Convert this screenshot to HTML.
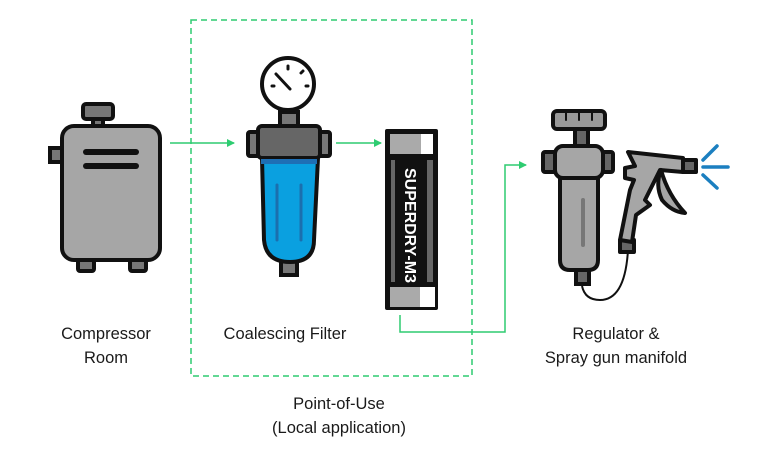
<!DOCTYPE html>
<html><head><meta charset="utf-8"><style>
html,body{margin:0;padding:0;background:#fff;width:770px;height:449px;overflow:hidden}
text{font-family:"Liberation Sans",sans-serif;font-size:16.5px;fill:#1a1a1a}
</style></head><body>
<svg width="770" height="449" viewBox="0 0 770 449" xmlns="http://www.w3.org/2000/svg">
<defs><marker id="a" markerWidth="8" markerHeight="8" refX="7" refY="4" orient="auto" markerUnits="userSpaceOnUse"><path d="M0,0 L8,4 L0,8 Z" fill="#2ecc71"/></marker></defs>
<rect x="191" y="20" width="281" height="356" fill="none" stroke="#2ecc71" stroke-width="1.5" stroke-dasharray="6,4"/>
<!-- compressor -->
<g stroke="#111" stroke-width="4">
<rect x="83" y="104" width="30" height="15" rx="3" fill="#777"/>
<rect x="93" y="119" width="10" height="7" fill="#777"/>
<rect x="50" y="148" width="14" height="14" fill="#777"/>
<rect x="78" y="257" width="16" height="14" rx="2" fill="#777"/>
<rect x="130" y="257" width="16" height="14" rx="2" fill="#777"/>
<rect x="62" y="126" width="98" height="134" rx="12" fill="#a6a6a6"/>
</g>
<g stroke="#111" stroke-width="6" stroke-linecap="round"><line x1="86" y1="152" x2="136" y2="152"/><line x1="86" y1="166" x2="136" y2="166"/></g>
<line x1="170" y1="143" x2="234" y2="143" stroke="#2ecc71" stroke-width="1.5" marker-end="url(#a)"/>
<!-- filter -->
<g stroke="#111" stroke-width="4">
<rect x="280" y="112" width="18" height="14" fill="#777"/>
<circle cx="288" cy="84" r="26" fill="#fff"/>
<rect x="248" y="132" width="14" height="24" rx="2" fill="#777"/>
<rect x="316" y="132" width="14" height="24" rx="2" fill="#777"/>
<rect x="281" y="258" width="16" height="17" fill="#777"/>
<path d="M262,158 L318,158 L314,240 Q314,262 290,262 Q266,262 264,240 Z" fill="#0aa0e0"/>
<rect x="258" y="126" width="62" height="32" rx="4" fill="#666"/>
</g>
<rect x="261" y="159" width="56" height="5" fill="#1e6fb5"/>
<g stroke="#1b6fae" stroke-width="3" stroke-linecap="round"><line x1="277" y1="185" x2="277" y2="240"/><line x1="301" y1="185" x2="301" y2="240"/></g>
<g stroke="#111" stroke-width="3" stroke-linecap="round"><line x1="276" y1="74" x2="290" y2="89"/><line x1="288" y1="66" x2="288" y2="69"/><line x1="301" y1="73" x2="303" y2="71"/><line x1="306" y1="86" x2="308" y2="86"/><line x1="274" y1="86" x2="272" y2="86"/></g>
<line x1="336" y1="143" x2="381" y2="143" stroke="#2ecc71" stroke-width="1.5" marker-end="url(#a)"/>
<!-- cartridge -->
<rect x="385" y="129" width="53" height="181" rx="2" fill="#111"/>
<rect x="390" y="134" width="31" height="20" fill="#aaa"/><rect x="421" y="134" width="12" height="20" fill="#fff"/>
<rect x="390" y="287" width="30" height="20" fill="#aaa"/><rect x="420" y="287" width="15" height="20" fill="#fff"/>
<rect x="391" y="160" width="4" height="122" fill="#666"/><rect x="427" y="160" width="6" height="122" fill="#666"/>
<text transform="translate(405,168) rotate(90)" style="font-weight:bold;font-size:16px;fill:#fff">SUPERDRY-M3</text>
<polyline points="400,315 400,332 505,332 505,165 526,165" fill="none" stroke="#2ecc71" stroke-width="1.5" marker-end="url(#a)"/>
<!-- regulator -->
<g stroke="#111" stroke-width="4">
<rect x="575" y="128" width="13" height="18" fill="#666"/>
<rect x="553" y="111" width="52" height="18" rx="4" fill="#999"/>
<rect x="576" y="268" width="13" height="16" fill="#666"/>
<rect x="543" y="152" width="14" height="20" rx="2" fill="#666"/>
<rect x="599" y="152" width="14" height="20" rx="2" fill="#666"/>
<path d="M560,176 L598,176 L598,260 Q598,270 588,270 L570,270 Q560,270 560,260 Z" fill="#a6a6a6"/>
<rect x="555" y="146" width="48" height="32" rx="8" fill="#a6a6a6"/>
</g>
<line x1="583" y1="200" x2="583" y2="245" stroke="#777" stroke-width="4" stroke-linecap="round"/>
<g stroke="#111" stroke-width="2" stroke-linecap="round"><line x1="566" y1="113" x2="566" y2="120"/><line x1="579" y1="113" x2="579" y2="120"/><line x1="592" y1="113" x2="592" y2="120"/></g>
<path d="M582,286 Q585,300 600,300 Q625,300 628,250" fill="none" stroke="#111" stroke-width="2"/>
<!-- gun -->
<g stroke="#111" stroke-width="4" stroke-linejoin="round">
<rect x="620" y="240" width="14" height="12" fill="#666"/>
<path d="M628,152 L683,158 L683,172 L660,170 L645,200 L650,205 L636,215 L632,242 L620,240 L630,190 L634,180 L625,178 L625,168 L635,166 Z" fill="#a6a6a6"/>
<path d="M661,170 Q668,195 685,213 Q672,212 662,200 Q655,185 661,170 Z" fill="#a6a6a6"/>
<rect x="683" y="160" width="13" height="12" fill="#666"/>
</g>
<g stroke="#1b7fc0" stroke-width="3.5" stroke-linecap="round"><line x1="703" y1="160" x2="717" y2="146"/><line x1="703" y1="167" x2="728" y2="167"/><line x1="703" y1="175" x2="717" y2="188"/></g>
<!-- labels -->
<text x="106" y="339" text-anchor="middle">Compressor</text>
<text x="106" y="363" text-anchor="middle">Room</text>
<text x="285" y="339" text-anchor="middle">Coalescing Filter</text>
<text x="616" y="339" text-anchor="middle">Regulator &amp;</text>
<text x="616" y="363" text-anchor="middle">Spray gun manifold</text>
<text x="339" y="409" text-anchor="middle">Point-of-Use</text>
<text x="339" y="433" text-anchor="middle">(Local application)</text>
</svg>
</body></html>
